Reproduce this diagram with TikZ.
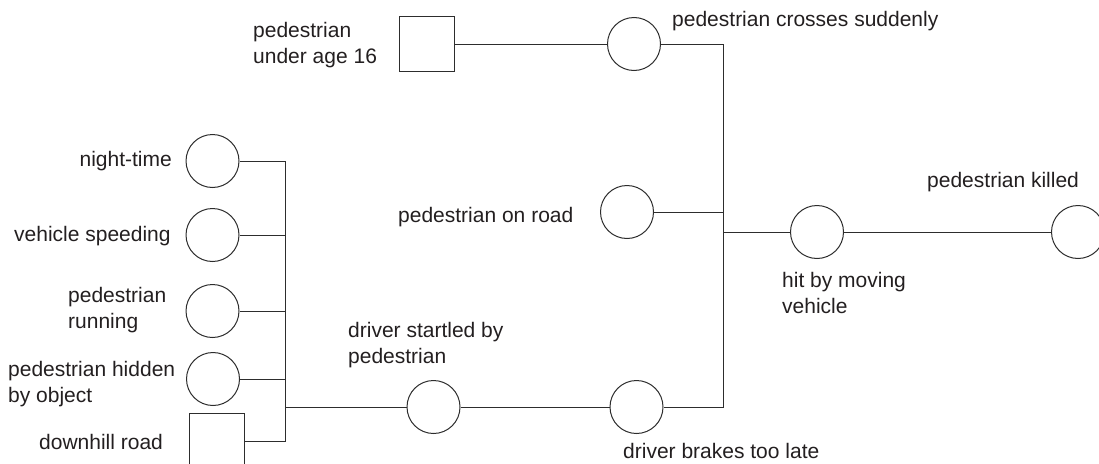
\documentclass[tikz,border=0pt]{standalone}
\usepackage{fontspec}
\setmainfont{Liberation Sans}
\definecolor{ink}{RGB}{35,31,32}
\definecolor{linec}{RGB}{45,45,45}
\begin{document}
\begin{tikzpicture}[x=1pt,y=-1pt,
  every node/.style={font=\fontsize{21}{25.5}\selectfont, text=ink},
  event/.style={draw=linec, line width=1pt, circle, minimum size=53pt, inner sep=0pt},
  basic/.style={draw=linec, line width=1pt, rectangle, minimum size=55pt, inner sep=0pt},
  lbl/.style={inner sep=0pt, align=left},
  conn/.style={draw=linec, line width=1pt}]
\useasboundingbox (0,0) rectangle (1099,463);
% nodes
\node[basic] (sq16) at (427,44) {};
\node[event] (ccross) at (634,44) {};
\node[event] (croad) at (627,212) {};
\node[event] (chit) at (817,232) {};
\node[event] (ckill) at (1078,232) {};
\node[event] (cnight) at (212.5,161) {};
\node[event] (cspeed) at (212.5,235) {};
\node[event] (crun) at (212.5,311) {};
\node[event] (chid) at (213,379) {};
\node[basic] (sqdown) at (217,441) {};
\node[event] (cstart) at (433.5,407) {};
\node[event] (cbrakes) at (636.5,407) {};
% junction points
\coordinate (rtop) at (723,44);
\coordinate (rroad) at (723,212);
\coordinate (rhit) at (723,232);
\coordinate (rbot) at (723,407);
\coordinate (ltop) at (285,161);
\coordinate (lout) at (285,407);
\coordinate (lbot) at (285,441);
% connectors
\draw[conn] (sq16.east) -- (ccross.west);
\draw[conn] (ccross.east) -- (rtop) -- (rbot) -- (cbrakes.east);
\draw[conn] (croad.east) -- (rroad);
\draw[conn] (rhit) -- (chit.west);
\draw[conn] (chit.east) -- (ckill.west);
\draw[conn] (cnight.east) -- (ltop) -- (lbot) -- (sqdown.east);
\draw[conn] (cspeed.east) -- (cspeed.east -| ltop);
\draw[conn] (crun.east) -- (crun.east -| ltop);
\draw[conn] (chid.east) -- (chid.east -| ltop);
\draw[conn] (lout) -- (cstart.west);
\draw[conn] (cstart.east) -- (cbrakes.west);
% labels (base anchor = baseline of the last line)
\node[lbl, anchor=base west] (t16) at (253,63) {pedestrian\\under age 16};
\node[lbl, anchor=base west] (tcross) at (672,27) {pedestrian crosses suddenly};
\node[lbl, anchor=base west] (troad) at (398,222) {pedestrian on road};
\node[lbl, anchor=base west] (tkill) at (927,187) {pedestrian killed};
\node[lbl, anchor=base west] (thit) at (782,313) {hit by moving\\vehicle};
\node[lbl, anchor=base east] (tnight) at (172,166) {night-time};
\node[lbl, anchor=base west] (tspeed) at (14,241) {vehicle speeding};
\node[lbl, anchor=base west] (trun) at (68,328) {pedestrian\\running};
\node[lbl, anchor=base west] (thid) at (8,402) {pedestrian hidden\\by object};
\node[lbl, anchor=base west] (tdown) at (39,449) {downhill road};
\node[lbl, anchor=base west] (tstart) at (348,363) {driver startled by\\pedestrian};
\node[lbl, anchor=base west] (tbrakes) at (623,458) {driver brakes too late};
\end{tikzpicture}
\end{document}
